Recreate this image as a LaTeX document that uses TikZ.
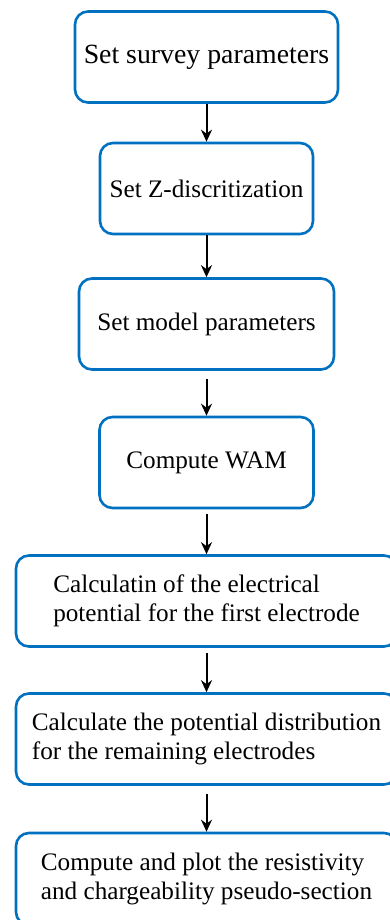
\documentclass[tikz,border=0pt]{standalone}
\usepackage{fontspec}
\setmainfont{Liberation Serif}
\usetikzlibrary{arrows.meta}

\definecolor{boxblue}{RGB}{0,112,192}

\tikzset{
	stepbox/.style={draw=boxblue, line width=1.3pt, rounded corners=6.5pt,
		minimum height=45.5pt, inner sep=0pt, align=left,
		font=\fontsize{12.6}{14.5}\selectfont},
	flow/.style={-{Stealth[length=6pt,width=5.5pt]}, line width=1pt}
}

\begin{document}
\begin{tikzpicture}[x=0.5pt, y=-0.5pt]
\useasboundingbox (0,0) rectangle (390,920);

% Pasos
\node[stepbox, minimum width=131.5pt, font=\fontsize{13.9}{16}\selectfont] (survey) at (206.5,57) {Set survey parameters};
\node[stepbox, minimum width=106.5pt] (zdisc) at (206.5,188.5) {Set Z-discritization};
\node[stepbox, minimum width=127.5pt] (model) at (206.5,324) {Set model parameters};
\node[stepbox, minimum width=107pt] (wam) at (206.5,462.5) {Compute WAM};
\node[stepbox, minimum width=190.5pt] (first) at (206.5,601) {Calculatin of the electrical\\potential for the first electrode};
\node[stepbox, minimum width=190.5pt] (remain) at (206.5,739) {Calculate the potential distribution\\for the remaining electrodes};
\node[stepbox, minimum width=190.5pt, minimum height=46pt] (pseudo) at (206.5,879) {Compute and plot the resistivity\\and chargeability pseudo-section};

% Flechas
\draw[flow] (survey) -- (zdisc);
\draw[flow] (zdisc) -- (model);
\draw[flow, shorten <=4pt] (model) -- (wam);
\draw[flow, shorten <=2.5pt] (wam) -- (first);
\draw[flow, shorten <=2.5pt] (first) -- (remain);
\draw[flow, shorten <=4pt] (remain) -- (pseudo);
\end{tikzpicture}
\end{document}
